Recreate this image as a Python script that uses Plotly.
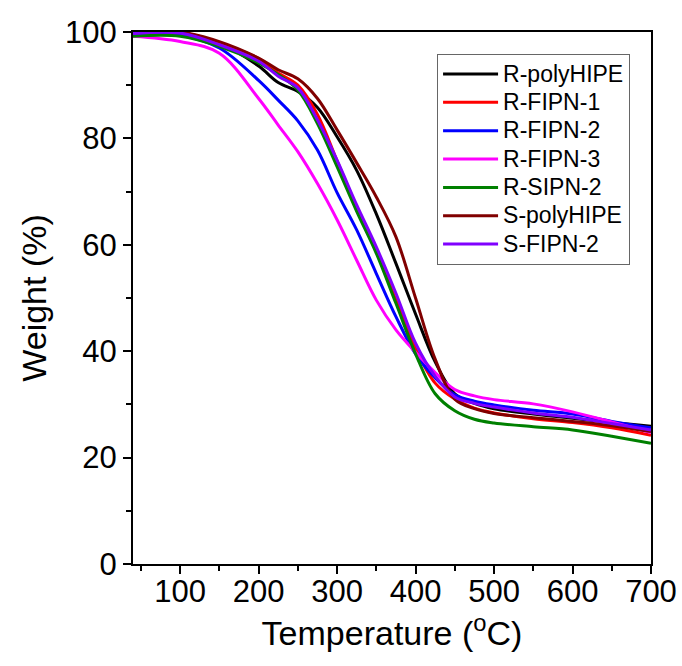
import plotly.graph_objects as go

temperature = [40, 100, 150, 200, 225, 250, 275, 300, 325, 350, 375, 400, 425, 450, 475, 500, 550, 600, 650, 700]

r_polyhipe = [100, 99.9, 97.9, 93.6, 90.5, 88.8, 85.8, 80.3, 74, 65.8, 56.5, 47, 38, 32, 30.2, 29.2, 28.2, 27.4, 26.6, 25.9]
r_fipn_1 = [99.8, 99.7, 97.9, 95, 92.3, 90, 84.5, 75.8, 67, 58.8, 49.6, 40.5, 34, 31, 29.3, 28.4, 27.3, 26.6, 25.6, 24.2]
r_fipn_2 = [99.6, 99.4, 97, 90.9, 87.2, 83.3, 77.8, 69.8, 62.8, 54.6, 46.5, 39.5, 35, 31.8, 30.6, 29.9, 28.9, 28.2, 26.8, 25.6]
r_fipn_3 = [99.2, 98.2, 96, 87.5, 82.5, 77.5, 71.5, 64.7, 57.1, 49.6, 44, 39.8, 36, 32.8, 31.6, 30.9, 30.1, 28.6, 26.7, 24.7]
r_sipn_2 = [99.2, 99.2, 97.3, 94.2, 92, 89.1, 82.8, 74.7, 66.3, 58.4, 49, 39.5, 32, 28.8, 27.2, 26.5, 25.8, 25.2, 24, 22.7]
s_polyhipe = [100, 100, 98.2, 95.1, 92.9, 91.2, 87.5, 81.6, 75.4, 69, 61.5, 50, 38.5, 31, 29.2, 28.3, 27.5, 26.8, 26, 24.9]
s_fipn_2 = [99.7, 99.8, 97.6, 94.5, 91.7, 89.5, 83.5, 75.9, 67.5, 59.6, 50.9, 41.5, 35.3, 31.4, 30.2, 29.5, 28.4, 27.6, 26.4, 25.2]

names = ["R-polyHIPE", "R-FIPN-1", "R-FIPN-2", "R-FIPN-3", "R-SIPN-2", "S-polyHIPE", "S-FIPN-2"]
series = [r_polyhipe, r_fipn_1, r_fipn_2, r_fipn_3, r_sipn_2, s_polyhipe, s_fipn_2]
colors = ["#000000", "#ff0000", "#0000ff", "#ff00ff", "#008000", "#800000", "#8000ff"]

fig = go.Figure()
for name, vals, col in zip(names, series, colors):
    fig.add_trace(go.Scatter(
        x=temperature, y=vals, name='<span style="font-size:23px">' + name + '</span>',
        mode="lines",
        line=dict(color=col, width=3, shape="spline", smoothing=1.0),
    ))

font_family = "Arial, Liberation Sans, sans-serif"
axis_common = dict(
    showline=True, linecolor="black", linewidth=2, mirror=True,
    ticks="outside", ticklen=8, tickwidth=2, tickcolor="black",
    showgrid=False, zeroline=False, automargin=False,
    tickfont=dict(family=font_family, size=31, color="black"),
)

fig.update_layout(
    width=682, height=666,
    margin=dict(l=133, r=31, t=32, b=102),
    paper_bgcolor="white", plot_bgcolor="white",
    font=dict(family=font_family, color="black"),
    showlegend=True,
    legend=dict(
        x=0.587, y=0.959, xanchor="left", yanchor="top",
        bordercolor="#666666", borderwidth=1, bgcolor="white",
        font=dict(family=font_family, size=19.5, color="black"),
        itemwidth=55, tracegroupgap=0,
    ),
)
fig.update_xaxes(
    range=[40, 700], tick0=0, dtick=100, ticklabelstandoff=-9,
    minor=dict(dtick=50, tick0=0, ticks="outside", ticklen=5, tickwidth=2, tickcolor="black"),
    title=dict(text="Temperature (<sup>o</sup>C)", font=dict(family=font_family, size=34, color="black"), standoff=0),
    **axis_common,
)
fig.update_yaxes(
    range=[0, 100], tick0=0, dtick=20,
    minor=dict(dtick=10, tick0=0, ticks="outside", ticklen=5, tickwidth=2, tickcolor="black"),
    title=dict(text="Weight (%)", font=dict(family=font_family, size=34, color="black"), standoff=8),
    **axis_common,
)

fig.write_html(
    "out.html",
    config={"displayModeBar": False},
    post_script="document.body.style.margin='0';document.body.style.overflow='hidden';",
)
